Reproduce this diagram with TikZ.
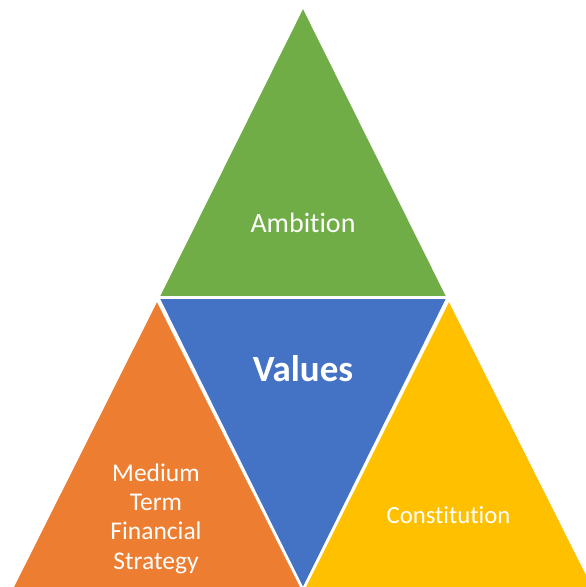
\documentclass[tikz,border=0pt]{standalone}
\usepackage{fontspec}
\setmainfont{Carlito}[Ligatures=NoCommon]
\definecolor{cgreen}{HTML}{70AD47}
\definecolor{cblue}{HTML}{4472C4}
\definecolor{corange}{HTML}{ED7D31}
\definecolor{cyellow}{HTML}{FFC000}
\begin{document}
\begin{tikzpicture}[x=1pt,y=-1pt,
  tri/.style={draw=white,line width=2.6pt,line join=miter},
  lbl/.style={text=white,inner sep=0pt,anchor=base}]
\useasboundingbox (0,0) rectangle (586,587);
\clip (0,0) rectangle (586,587);
\fill[white] (0,0) rectangle (586,587);
\filldraw[tri,fill=cgreen] (303,6) -- (448,297.5) -- (158,297.5) -- cycle;
\filldraw[tri,fill=cblue] (158,297.5) -- (448,297.5) -- (303,590) -- cycle;
\filldraw[tri,fill=corange] (157,299) -- (11,590) -- (303,590) -- cycle;
\filldraw[tri,fill=cyellow] (449,299) -- (303,590) -- (595,590) -- cycle;
\node[lbl,font=\fontsize{28}{34}\selectfont] (ambition) at (303,232.4) {Ambition};
\node[lbl,font=\fontsize{37}{44}\selectfont\bfseries] (values) at (303,381.9) {Values};
\node[lbl,font=\fontsize{24.7}{30}\selectfont] (constitution) at (448.5,523.9) {Constitution};
\node[lbl,font=\fontsize{25.5}{29.3}\selectfont,align=center] (mtfs) at (156,569) {Medium\\Term\\Financial\\Strategy};
\end{tikzpicture}
\end{document}
